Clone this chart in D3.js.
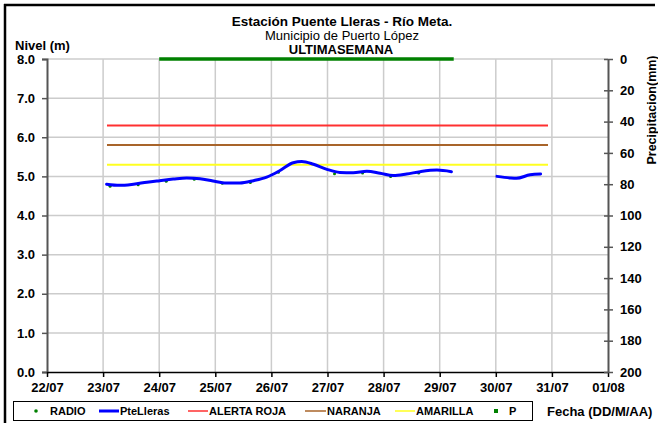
<!DOCTYPE html>
<html><head><meta charset="utf-8">
<script src="https://cdn.jsdelivr.net/npm/d3@7"></script>
<style>
body{margin:0;background:#fff}
svg{display:block;font-family:"Liberation Sans",Arial,sans-serif}
</style>
</head><body>
<svg id="c" width="658" height="423"></svg>
<script>
// ---------- data ----------
const xTickDates = ["2014-07-22 00:00","2014-07-23 00:00","2014-07-24 00:00","2014-07-25 00:00","2014-07-26 00:00","2014-07-27 00:00","2014-07-28 00:00","2014-07-29 00:00","2014-07-30 00:00","2014-07-31 00:00","2014-08-01 00:00"];
const xTickLabels = ["22/07","23/07","24/07","25/07","26/07","27/07","28/07","29/07","30/07","31/07","01/08"];
const levelTicks = [0,1,2,3,4,5,6,7,8];
const rainTicks = [0,20,40,60,80,100,120,140,160,180,200];

const levelTimes = ["2014-07-23 01:30","2014-07-23 07:00","2014-07-23 13:00","2014-07-23 18:45","2014-07-24 00:15","2014-07-24 06:00","2014-07-24 11:45","2014-07-24 17:30","2014-07-24 23:00","2014-07-25 04:45","2014-07-25 10:30","2014-07-25 16:20","2014-07-25 22:00","2014-07-26 03:40","2014-07-26 09:20","2014-07-26 13:00","2014-07-26 18:00","2014-07-26 23:45","2014-07-27 05:15","2014-07-27 11:00","2014-07-27 16:50","2014-07-27 22:30","2014-07-28 04:10","2014-07-28 09:50","2014-07-28 15:40","2014-07-28 22:50","2014-07-29 05:00","2014-07-29 16:00","2014-07-30 00:30","2014-07-30 06:00","2014-07-30 08:50","2014-07-30 14:40","2014-07-30 19:10"];
const levelValues = [4.80,4.77,4.80,4.85,4.89,4.93,4.96,4.94,4.88,4.83,4.83,4.89,4.98,5.15,5.35,5.38,5.31,5.18,5.10,5.09,5.13,5.08,5.02,5.06,5.12,5.16,5.12,null,5.00,4.96,4.95,5.04,5.06];

const radioTimes = ["2014-07-23 03:00","2014-07-23 15:00","2014-07-24 03:00","2014-07-24 15:00","2014-07-25 03:00","2014-07-25 15:00","2014-07-26 03:00","2014-07-27 03:00","2014-07-27 15:00","2014-07-28 03:00","2014-07-28 15:00"];
const radioValues = [4.77,4.81,4.90,4.95,4.85,4.87,5.13,5.09,5.11,5.02,5.11];

const pTimes = ["2014-07-24 00:00","2014-07-25 00:00","2014-07-26 00:00","2014-07-27 00:00","2014-07-28 00:00","2014-07-29 00:00","2014-07-29 06:00"];
const pValues = [0,0,0,0,0,0,0];

const thresholdNames = ["ALERTA ROJA","NARANJA","AMARILLA"];
const thresholdValues = [6.3,5.8,5.3];
const thresholdColors = ["#ff3030","#a8642a","#ffff20"];
const thresholdSpan = ["2014-07-23 01:40","2014-07-30 22:20"];

// ---------- chart ----------
const parse = d3.timeParse("%Y-%m-%d %H:%M");
const svg = d3.select("#c");
const x = d3.scaleTime().domain([parse(xTickDates[0]), parse(xTickDates[xTickDates.length-1])]).range([47,608]);
const y = d3.scaleLinear().domain([0,8]).range([372,59]);
const yR = d3.scaleLinear().domain([0,200]).range([59,372]);

// outer frame (top + left)
svg.append("line").attr("x1",4).attr("x2",655).attr("y1",5).attr("y2",5).attr("stroke","#000").attr("stroke-width",2.5);
svg.append("line").attr("x1",5).attr("x2",5).attr("y1",4).attr("y2",423).attr("stroke","#000").attr("stroke-width",2.5);

// grid
const grid = svg.append("g").attr("stroke","#cccccc").attr("stroke-width",1.5);
xTickDates.slice(1,-1).forEach(d=>{
  grid.append("line").attr("x1",x(parse(d))).attr("x2",x(parse(d))).attr("y1",y(8)).attr("y2",y(0));
});
levelTicks.slice(1).forEach(v=>{
  grid.append("line").attr("x1",x.range()[0]).attr("x2",x.range()[1]).attr("y1",y(v)).attr("y2",y(v));
});

// titles
svg.append("text").attr("x",342).attr("y",26).attr("text-anchor","middle").attr("font-size",13.5).attr("font-weight","bold").text("Estación Puente Lleras - Río Meta.");
svg.append("text").attr("x",342).attr("y",39.5).attr("text-anchor","middle").attr("font-size",13).text("Municipio de Puerto López");
svg.append("text").attr("x",341).attr("y",53.5).attr("text-anchor","middle").attr("font-size",13).attr("font-weight","bold").text("ULTIMASEMANA");
svg.append("text").attr("x",15).attr("y",50).attr("font-size",13).attr("font-weight","bold").text("Nivel (m)");

// left axis
const gL = svg.append("g").attr("transform","translate(47,0)")
  .call(d3.axisLeft(y).tickValues(levelTicks).tickFormat(d3.format(".1f")).tickSize(5).tickPadding(7));
gL.select(".domain").attr("stroke","#555").attr("stroke-width",2);
gL.selectAll(".tick line").attr("stroke","#555").attr("stroke-width",1.5);
gL.selectAll("text").attr("font-size",13).attr("font-weight","bold").attr("fill","#000").attr("font-family","Liberation Sans, Arial, sans-serif");

// bottom axis
const gB = svg.append("g").attr("transform","translate(0,372)")
  .call(d3.axisBottom(x).tickValues(xTickDates.map(parse)).tickFormat((d,i)=>xTickLabels[i]).tickSize(5).tickSizeOuter(0).tickPadding(6));
gB.select(".domain").attr("stroke","#000").attr("stroke-width",1.5);
gB.selectAll(".tick line").attr("stroke","#000").attr("stroke-width",1.5);
gB.selectAll("text").attr("font-size",13).attr("font-weight","bold").attr("fill","#000").attr("font-family","Liberation Sans, Arial, sans-serif");

// right axis
const gR = svg.append("g").attr("transform","translate(608,0)")
  .call(d3.axisRight(yR).tickValues(rainTicks).tickSize(5).tickSizeOuter(0).tickPadding(7));
gR.select(".domain").attr("stroke","#555").attr("stroke-width",2);
gR.selectAll(".tick line").attr("x1",-4).attr("stroke","#555").attr("stroke-width",1.5);
gR.selectAll("text").attr("font-size",13).attr("font-weight","bold").attr("fill","#000").attr("font-family","Liberation Sans, Arial, sans-serif");
svg.append("text").attr("transform","translate(656,110) rotate(-90)").attr("text-anchor","middle")
  .attr("font-size",12.5).attr("font-weight","bold").text("Precipitacion(mm)");

// thresholds
thresholdValues.forEach((v,i)=>{
  svg.append("line").attr("x1",x(parse(thresholdSpan[0]))).attr("x2",x(parse(thresholdSpan[1])))
    .attr("y1",y(v)).attr("y2",y(v)).attr("stroke",thresholdColors[i]).attr("stroke-width",2);
});

// precipitation series P (right axis)
const pData = pTimes.map((t,i)=>({t:parse(t),v:pValues[i]}));
svg.append("path").datum(pData).attr("fill","none").attr("stroke","#008000").attr("stroke-width",3.5)
  .attr("d", d3.line().x(d=>x(d.t)).y(d=>yR(d.v)));

// radio points
radioTimes.forEach((t,i)=>{
  svg.append("circle").attr("cx",x(parse(t))).attr("cy",y(radioValues[i])+1).attr("r",1.5).attr("fill","#008000");
});

// level line
const lData = levelTimes.map((t,i)=>({t:parse(t),v:levelValues[i]}));
svg.append("path").datum(lData).attr("fill","none").attr("stroke","#0000ff").attr("stroke-width",3)
  .attr("stroke-linejoin","round").attr("stroke-linecap","round")
  .attr("d", d3.line().defined(d=>d.v!=null).curve(d3.curveMonotoneX).x(d=>x(d.t)).y(d=>y(d.v)));

// legend
const lg = svg.append("g");
lg.append("rect").attr("x",13.5).attr("y",401.5).attr("width",519).attr("height",19).attr("fill","#fff").attr("stroke","#000").attr("stroke-width",1);
const ly = 411, lfs = 11;
function ltext(xp, s){ lg.append("text").attr("x",xp).attr("y",ly+4).attr("font-size",lfs).attr("font-weight","bold").text(s); }
lg.append("circle").attr("cx",36).attr("cy",ly).attr("r",1.8).attr("fill","#008000");
ltext(50,"RADIO");
lg.append("line").attr("x1",99).attr("x2",119).attr("y1",ly).attr("y2",ly).attr("stroke","#0000ff").attr("stroke-width",3);
ltext(120,"PteLleras");
lg.append("line").attr("x1",188).attr("x2",208).attr("y1",ly).attr("y2",ly).attr("stroke",thresholdColors[0]).attr("stroke-width",1.5);
ltext(209,thresholdNames[0]);
lg.append("line").attr("x1",305).attr("x2",326).attr("y1",ly).attr("y2",ly).attr("stroke",thresholdColors[1]).attr("stroke-width",1.5);
ltext(327,thresholdNames[1]);
lg.append("line").attr("x1",395).attr("x2",415).attr("y1",ly).attr("y2",ly).attr("stroke",thresholdColors[2]).attr("stroke-width",1.5);
ltext(416,thresholdNames[2]);
lg.append("rect").attr("x",494).attr("y",ly-2).attr("width",4).attr("height",4).attr("fill","#008000");
ltext(509,"P");
svg.append("text").attr("x",547).attr("y",416).attr("font-size",13).attr("font-weight","bold").text("Fecha (DD/M/AA)");
</script>
</body></html>
